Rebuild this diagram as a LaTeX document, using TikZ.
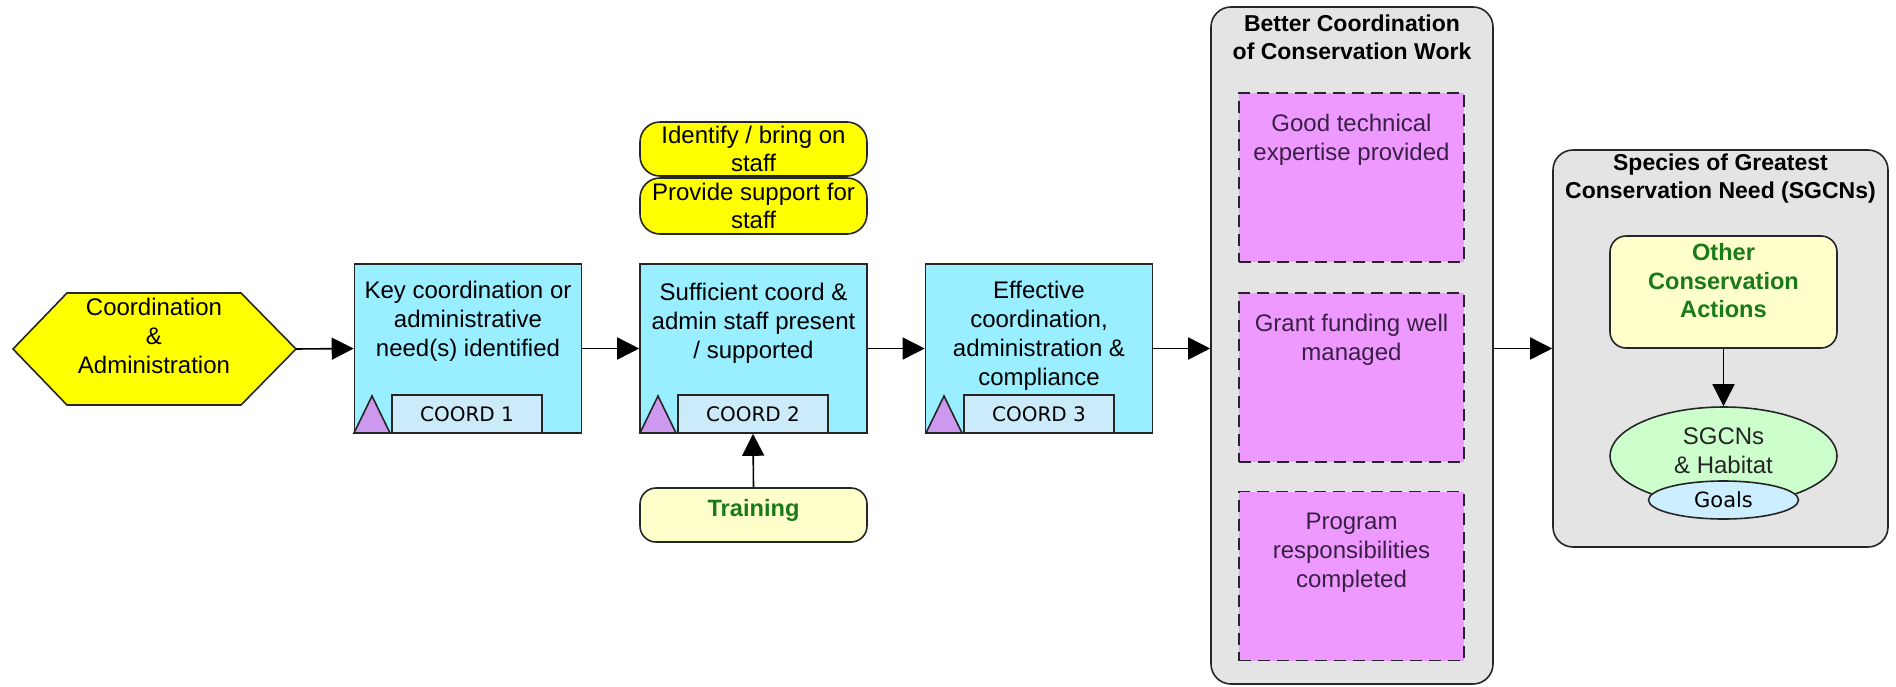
\documentclass[tikz,border=0pt]{standalone}
\usepackage{fontspec}
\setmainfont{Liberation Sans}
\newfontfamily\lblfont{DejaVu Sans}
\usetikzlibrary{arrows.meta,shapes.geometric}
\definecolor{bluebox}{HTML}{99EEFF}
\definecolor{lblbox}{HTML}{CCEBFA}
\definecolor{trifill}{HTML}{CC99EE}
\definecolor{pinkbox}{HTML}{EE99FF}
\definecolor{greybox}{HTML}{E4E4E4}
\definecolor{yel}{HTML}{FFFF00}
\definecolor{lyel}{HTML}{FFFFCC}
\definecolor{lgreen}{HTML}{CCFFCC}
\definecolor{goalblue}{HTML}{CCEEFF}
\definecolor{dgreen}{HTML}{1A7A1A}
\definecolor{edge}{HTML}{262626}
\definecolor{pinktext}{HTML}{3A1F44}
\tikzset{
  base/.style={draw=edge, line width=0.8pt},
  bluebx/.style={base, fill=bluebox, rectangle, minimum width=113.5pt, minimum height=84.5pt, inner sep=0pt},
  lblbx/.style={base, fill=lblbox, rectangle, minimum width=75pt, minimum height=19pt, inner sep=0pt, font=\lblfont\fontsize{10}{12}\selectfont},
  tri/.style={base, fill=trifill},
  yelbx/.style={base, fill=yel, rectangle, rounded corners=10pt, minimum width=113.5pt, inner sep=0pt, align=center},
  pinkbx/.style={draw=edge, line width=0.8pt, dash pattern=on 6pt off 3.5pt, fill=pinkbox, rectangle, minimum width=112.5pt, minimum height=84.5pt, inner sep=0pt},
  greybx/.style={base, fill=greybox, rectangle, rounded corners=10pt, inner sep=0pt},
  txt/.style={inner sep=0pt, align=center, font=\fontsize{12}{14.5}\selectfont},
  btxt/.style={inner sep=0pt, align=center, font=\bfseries\fontsize{11.5}{14}\selectfont},
  arr/.style={draw=black, line width=0.8pt, -{Triangle[length=11pt, width=11pt]}},
}
\begin{document}
\begin{tikzpicture}[x=0.5pt, y=-0.5pt]
\useasboundingbox (0,0) rectangle (1896,686);

% hexagon
\draw[base, fill=yel] (13,349) -- (67,293) -- (241,293) -- (296,349) -- (241,405) -- (67,405) -- cycle;
\coordinate (hexR) at (296,349);
\node[txt] (hext) at (154,336) {Coordination\\\&\\Administration};

% blue boxes
\node[bluebx] (b1) at (468,348.5) {};
\node[bluebx] (b2) at (753.5,348.5) {};
\node[bluebx] (b3) at (1039,348.5) {};
\node[txt, anchor=north] (b1t) at ([yshift=-9pt]b1.north) {Key coordination or\\administrative\\need(s) identified};
\node[txt, anchor=north] (b2t) at ([yshift=-10pt]b2.north) {Sufficient coord \&\\admin staff present\\/ supported};
\node[txt, anchor=north] (b3t) at ([yshift=-9pt]b3.north) {Effective\\coordination,\\administration \&\\compliance};

% triangles and labels
\draw[tri] (354,433) -- (390,433) -- (372,396) -- cycle;
\draw[tri] (640,433) -- (676,433) -- (658,396) -- cycle;
\draw[tri] (926,433) -- (962,433) -- (944,396) -- cycle;
\node[lblbx] (c1) at (467,414) {COORD 1};
\node[lblbx] (c2) at (753,414) {COORD 2};
\node[lblbx] (c3) at (1039,414) {COORD 3};

% yellow boxes
\node[yelbx, minimum height=27pt, font=\fontsize{12}{14}\selectfont] (ident) at (753.5,149) {Identify / bring on\\staff};
\node[yelbx, minimum height=28pt, font=\fontsize{12}{14}\selectfont] (prov) at (753.5,206) {Provide support for\\staff};

% training
\node[base, fill=lyel, rectangle, rounded corners=8pt, minimum width=113.5pt, minimum height=27pt, inner sep=0pt] (train) at (753.5,515) {};
\node[btxt, text=dgreen, anchor=north, font=\bfseries\fontsize{11.8}{14}\selectfont] (traint) at ([yshift=-6pt]train.north) {Training};

% better coordination container
\node[greybx, minimum width=141pt, minimum height=338.5pt] (better) at (1352,345.5) {};
\node[btxt] (bettert) at (1352,37) {Better Coordination\\of Conservation Work};
\node[pinkbx] (p1) at (1351.5,177.5) {};
\node[pinkbx] (p2) at (1351.5,377.5) {};
\node[pinkbx] (p3) at (1351.5,576) {};
\node[txt, text=pinktext, anchor=north] (p1t) at ([yshift=-11pt]p1.north) {Good technical\\expertise provided};
\node[txt, text=pinktext, anchor=north] (p2t) at ([yshift=-11pt]p2.north) {Grant funding well\\managed};
\node[txt, text=pinktext, anchor=north] (p3t) at ([yshift=-11pt]p3.north) {Program\\responsibilities\\completed};

% SGCN container
\node[greybx, minimum width=167.5pt, minimum height=198.5pt] (sgcn) at (1720.5,348.5) {};
\node[btxt] (sgcnt) at (1720.5,179) {Species of Greatest\\Conservation Need (SGCNs)};
\node[base, fill=lyel, rectangle, rounded corners=8pt, minimum width=113.5pt, minimum height=56pt, inner sep=0pt] (other) at (1723.5,292) {};
\node[btxt, text=dgreen, anchor=north, font=\bfseries\fontsize{11.8}{14.2}\selectfont] (othert) at ([yshift=-4pt]other.north) {Other\\Conservation\\Actions};
\node[base, fill=lgreen, ellipse, minimum width=113.5pt, minimum height=49pt, inner sep=0pt] (sg) at (1723.5,456) {};
\node[txt, text=black!85] (sgt) at (1723.5,451) {SGCNs\\\& Habitat};
\node[base, fill=goalblue, ellipse, minimum width=75pt, minimum height=19pt, inner sep=0pt, font=\lblfont\fontsize{10.5}{12}\selectfont] (goals) at (1723.5,500) {Goals};

% connectors
\draw[arr] (hexR) -- (b1.west);
\draw[arr] (b1.east) -- (b2.west);
\draw[arr] (b2.east) -- (b3.west);
\draw[arr] (b3.east) -- (better.west |- b3.east);
\draw[arr] (better.east |- sgcn.west) -- (sgcn.west);
\draw[arr] (train.north) -- (c2.south);
\draw[arr] (other.south) -- (sg.north);
\end{tikzpicture}
\end{document}
